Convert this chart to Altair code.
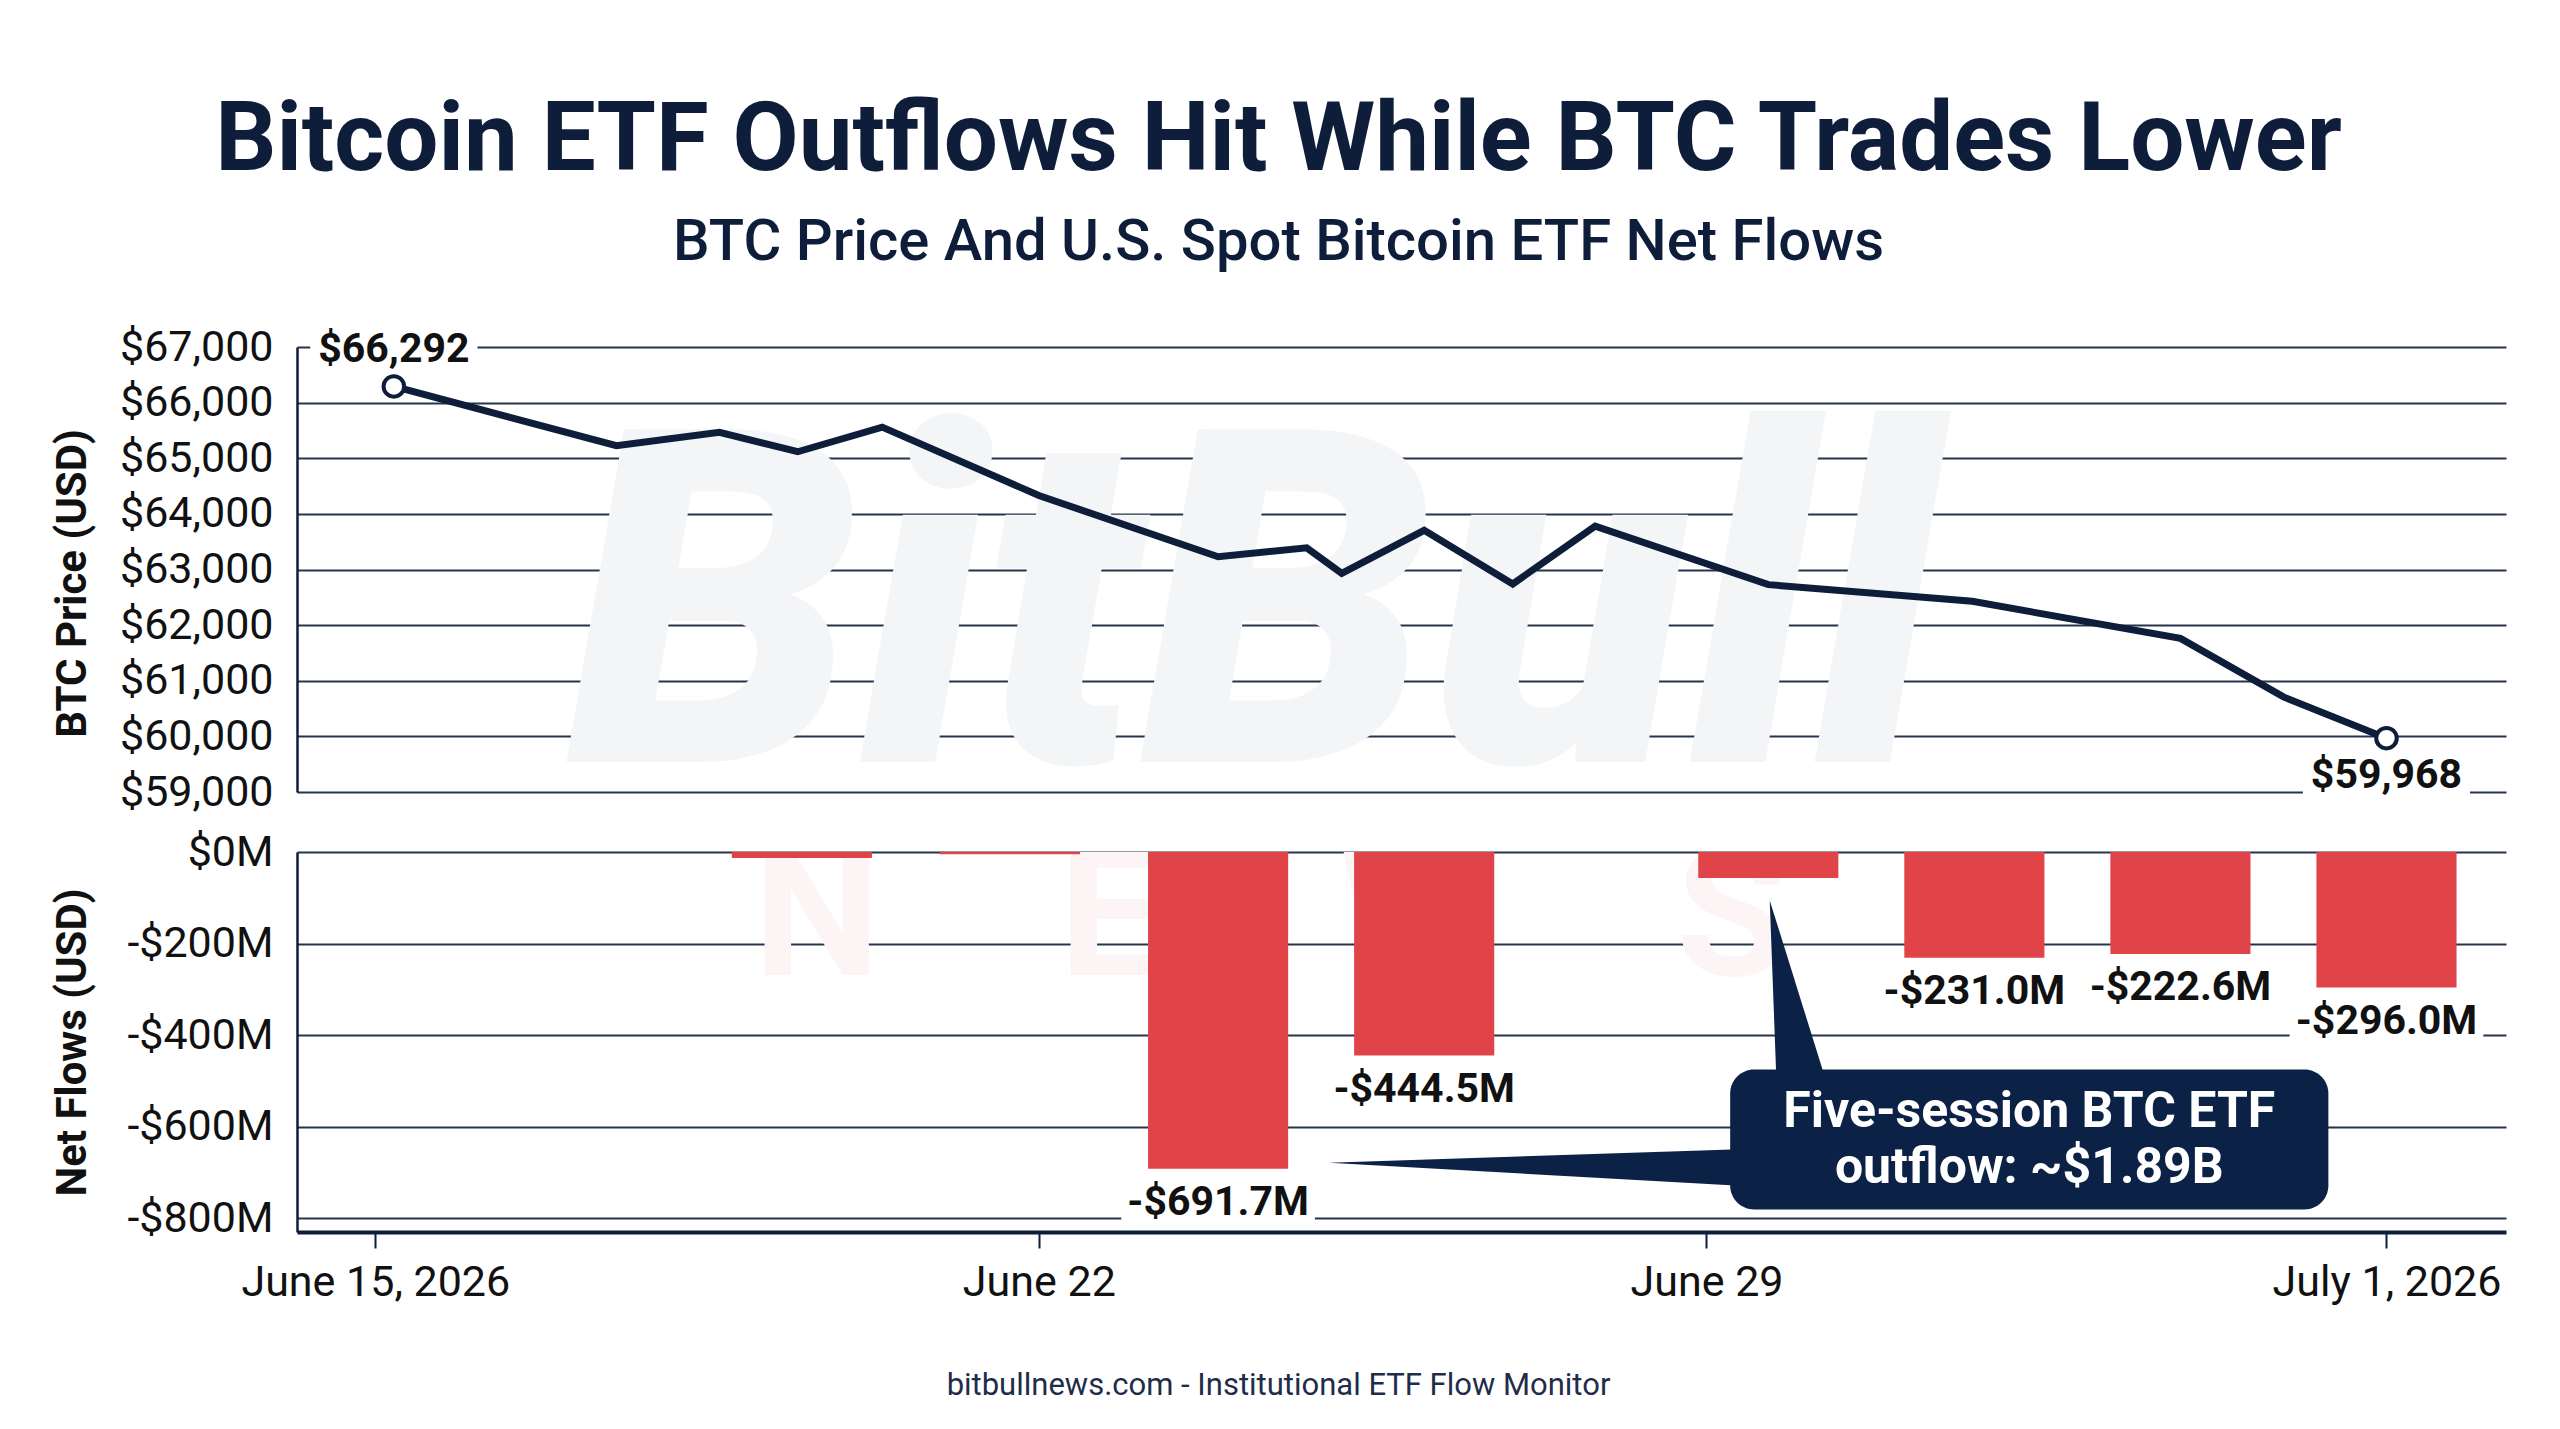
import altair as alt
import pandas as pd

# ---------------------------------------------------------------------------
# Data
# x is a session position on the shared time axis (one unit = one session).
# ---------------------------------------------------------------------------
price_pos = [0.09, 1.17, 1.67, 2.05, 2.46, 3.22, 4.09, 4.52, 4.69, 5.09,
             5.52, 5.92, 6.76, 7.75, 8.76, 9.26, 9.76]
price_usd = [66292, 65225, 65466, 65117, 65560, 64330, 63230, 63390, 62930,
             63705, 62740, 63780, 62728, 62428, 61762, 60710, 59968]

flow_pos = [2.07, 3.08, 4.09, 5.09, 6.76, 7.76, 8.76, 9.76]
flow_musd = [-13.0, -5.0, -691.7, -444.5, -57.0, -231.0, -222.6, -296.0]
flow_labeled = [False, False, True, True, False, True, True, True]

tick_pos = [0.0, 3.22, 6.46, 9.76]
tick_labels = ["June 15, 2026", "June 22", "June 29", "July 1, 2026"]

price_ticks = [59000, 60000, 61000, 62000, 63000, 64000, 65000, 66000, 67000]
flow_ticks = [0, -200, -400, -600, -800]

callout_lines = ["Five-session BTC ETF", "outflow: ~$1.89B"]
# callout box and pointer geometry, in axis units (session, $M)
callout_box = {"x0": 6.575, "x1": 9.478, "y0": -475.0, "y1": -781.0}
pointer_up = {"tip_x": 6.767, "tip_y": -105.7, "base_y": -482.0,
              "base_x0": 6.798, "base_x1": 7.028}
pointer_left = {"tip_x": 4.628, "tip_y": -678.7, "base_x": 6.62,
                "base_y0": -649.0, "base_y1": -729.0}

# ---------------------------------------------------------------------------
# Styling
# ---------------------------------------------------------------------------
FONT = "Roboto"
NAVY = "#0d1d3a"
BOX_NAVY = "#0b2246"
GRID = "#26344d"
INK = "#111111"
RED = "#e04448"

W = 2209
H_TOP = 445
H_BOT = 380
X_DOMAIN = [-0.38, 10.34]
BAR_HALF = 0.34
CALLOUT_LINE_H = 56

PRICE_BOX = "M-1.9,-0.5L1.9,-0.5L1.9,0.5L-1.9,0.5Z"
FLOW_BOX = "M-2.2,-0.5L2.2,-0.5L2.2,0.5L-2.2,0.5Z"
NBSP = "\u00a0"

price_df = pd.DataFrame({"pos": price_pos, "price": price_usd})
price_df["label"] = [f"${v:,.0f}" for v in price_df["price"]]
first_df = price_df.iloc[[0]]
last_df = price_df.iloc[[len(price_df) - 1]]

flow_df = pd.DataFrame({"pos": flow_pos, "flow": flow_musd, "labeled": flow_labeled})
flow_df["label"] = [f"-${abs(v):.1f}M" for v in flow_df["flow"]]
flow_lab = flow_df[flow_df["labeled"]]

x_scale = alt.Scale(domain=X_DOMAIN, nice=False, zero=False)
py_scale = alt.Scale(domain=[price_ticks[0], price_ticks[-1]], nice=False, zero=False)
fy_scale = alt.Scale(domain=[-830, 0], nice=False, zero=False)

labels_js = "[" + ",".join(f"'{t}'" for t in tick_labels) + "]"
ticks_js = "[" + ",".join(str(t) for t in tick_pos) + "]"


def y_axis(title, values, label_expr, title_y):
    return alt.Axis(
        values=values, labelExpr=label_expr, labelFont=FONT, labelFontSize=43,
        labelColor=INK, labelPadding=24, ticks=False, domain=True,
        domainColor=NAVY, domainWidth=2.5, grid=True, gridColor=GRID,
        gridWidth=2, title=title, titleFont=FONT, titleFontSize=42,
        titleFontWeight="bold", titleColor=INK, titleAngle=270, titleX=-225,
        titleY=title_y, titleAlign="center", titleBaseline="middle",
    )


# ---------------------------------------------------------------------------
# Top panel: BTC price
# ---------------------------------------------------------------------------
px = alt.X("pos:Q", scale=x_scale, axis=None)
py = alt.Y("price:Q", scale=py_scale,
           axis=y_axis("BTC Price (USD)", price_ticks,
                       "'$' + format(datum.value, ',')", 236))

price_base = alt.Chart(price_df)

watermark_top = alt.Chart(first_df).mark_text(
    text="BitBull", font=FONT, fontSize=468, fontWeight=900, fontStyle="italic",
    color="#f4f5f7", align="center", baseline="middle", clip=True,
).encode(x=alt.value(955), y=alt.value(275))

line = price_base.mark_line(color=NAVY, strokeWidth=7, strokeJoin="miter").encode(x=px, y=py)


def end_marker(df, box_off, text_off):
    base = alt.Chart(df)
    box = base.mark_point(shape=PRICE_BOX, size=7744, filled=True, color="white",
                          strokeWidth=0, opacity=1, yOffset=box_off).encode(x=px, y=py)
    dot = base.mark_circle(color="white", stroke=NAVY, strokeWidth=4, size=420,
                           opacity=1).encode(x=px, y=py)
    txt = base.mark_text(font=FONT, fontSize=41, fontWeight="bold", color=INK,
                         align="center", baseline="middle", dy=text_off).encode(
        x=px, y=py, text="label:N")
    return [box, dot, txt]


top = alt.layer(
    watermark_top, line, *end_marker(first_df, -38, -36), *end_marker(last_df, 36, 38)
).properties(width=W, height=H_TOP)

# ---------------------------------------------------------------------------
# Bottom panel: ETF net flows
# ---------------------------------------------------------------------------
bx = alt.X("x0:Q", scale=x_scale, title=None,
           axis=alt.Axis(values=tick_pos,
                         labelExpr=f"{labels_js}[indexof({ticks_js}, datum.value)]",
                         labelFont=FONT, labelFontSize=43, labelColor=INK,
                         labelLimit=0, labelPadding=13, labelFlush=False,
                         tickSize=16, tickWidth=2, tickColor=NAVY,
                         domainColor=NAVY, domainWidth=4, grid=False))
fx = alt.X("pos:Q", scale=x_scale)
fy_axis = y_axis("Net Flows (USD)", flow_ticks,
                 "(datum.value < 0 ? '-' : '') + '$' + format(abs(datum.value), ',') + 'M'",
                 190)
fy = alt.Y("flow:Q", scale=fy_scale, axis=fy_axis)

flow_base = alt.Chart(flow_df)

watermark_bot = alt.Chart(flow_df.iloc[[0]]).mark_text(
    text=(NBSP * 4).join("NEWS"), font=FONT, fontSize=180, fontWeight="bold",
    color="#fdf5f5", align="center", baseline="middle", clip=True,
).encode(x=alt.value(973), y=alt.value(69))

bars = flow_base.mark_bar(color=RED).encode(
    x=bx, x2="x1:Q", y=fy, y2=alt.datum(0),
).transform_calculate(x0=f"datum.pos - {BAR_HALF}", x1=f"datum.pos + {BAR_HALF}")

lab = alt.Chart(flow_lab)
bar_boxes = lab.mark_point(shape=FLOW_BOX, size=7744, filled=True, color="white",
                           strokeWidth=0, opacity=1, yOffset=32).encode(
    x=fx, y=alt.Y("flow:Q", scale=fy_scale))
bar_text = lab.mark_text(font=FONT, fontSize=41, fontWeight="bold", color=INK,
                         align="center", baseline="middle", dy=34).encode(
    x=fx, y=alt.Y("flow:Q", scale=fy_scale), text="label:N")

# callout pointers (thin triangles) and box
up_df = pd.DataFrame({
    "y": [pointer_up["tip_y"], pointer_up["base_y"]],
    "xa": [pointer_up["tip_x"], pointer_up["base_x0"]],
    "xb": [pointer_up["tip_x"], pointer_up["base_x1"]],
})
ptr_up = alt.Chart(up_df).mark_area(orient="horizontal", color=BOX_NAVY, opacity=1).encode(
    y=alt.Y("y:Q", scale=fy_scale),
    x=alt.X("xa:Q", scale=x_scale, stack=None),
    x2="xb:Q",
)
left_df = pd.DataFrame({
    "x": [pointer_left["tip_x"], pointer_left["base_x"]],
    "ya": [pointer_left["tip_y"], pointer_left["base_y0"]],
    "yb": [pointer_left["tip_y"], pointer_left["base_y1"]],
})
ptr_left = alt.Chart(left_df).mark_area(orient="vertical", color=BOX_NAVY, opacity=1).encode(
    x=alt.X("x:Q", scale=x_scale),
    y=alt.Y("ya:Q", scale=fy_scale, stack=None),
    y2="yb:Q",
)
box_df = pd.DataFrame([callout_box])
box = alt.Chart(box_df).mark_rect(color=BOX_NAVY, cornerRadius=24).encode(
    x=alt.X("x0:Q", scale=x_scale), x2="x1:Q",
    y=alt.Y("y0:Q", scale=fy_scale), y2="y1:Q",
)
# two-line text, shifted up half a line so the block sits centred in the box
box_text = alt.Chart(box_df).mark_text(
    text=callout_lines, font=FONT, fontSize=50, fontWeight="bold", color="white",
    align="center", baseline="middle", lineHeight=CALLOUT_LINE_H,
    dy=-CALLOUT_LINE_H / 2,
).encode(
    x=alt.X("xc:Q", scale=x_scale), y=alt.Y("yc:Q", scale=fy_scale),
).transform_calculate(xc="(datum.x0 + datum.x1) / 2", yc="(datum.y0 + datum.y1) / 2")

bottom = alt.layer(
    watermark_bot, bars, bar_boxes, bar_text, ptr_up, ptr_left, box, box_text
).properties(
    width=W, height=H_BOT,
    title=alt.Title(
        "bitbullnews.com - Institutional ETF Flow Monitor", orient="bottom",
        anchor="middle", frame="bounds", font=FONT, fontSize=31,
        fontWeight="normal", color="#1f2d4a", offset=67,
    ),
)

chart = alt.vconcat(
    top, bottom, spacing=17,
    title=alt.Title(
        "Bitcoin ETF Outflows Hit While BTC Trades Lower",
        subtitle="BTC Price And U.S. Spot Bitcoin ETF Net Flows",
        anchor="middle", frame="bounds", font=FONT, fontSize=96,
        fontWeight="bold", color=NAVY,
        subtitleFont=FONT, subtitleFontSize=58, subtitleFontWeight=500,
        subtitleColor=NAVY, subtitlePadding=24, offset=53,
    ),
).properties(
    padding={"left": 51, "top": 93, "right": 20, "bottom": 20},
    background="white",
).configure_view(strokeWidth=0)

chart.save("out.html", embed_options={"renderer": "svg", "actions": False})
